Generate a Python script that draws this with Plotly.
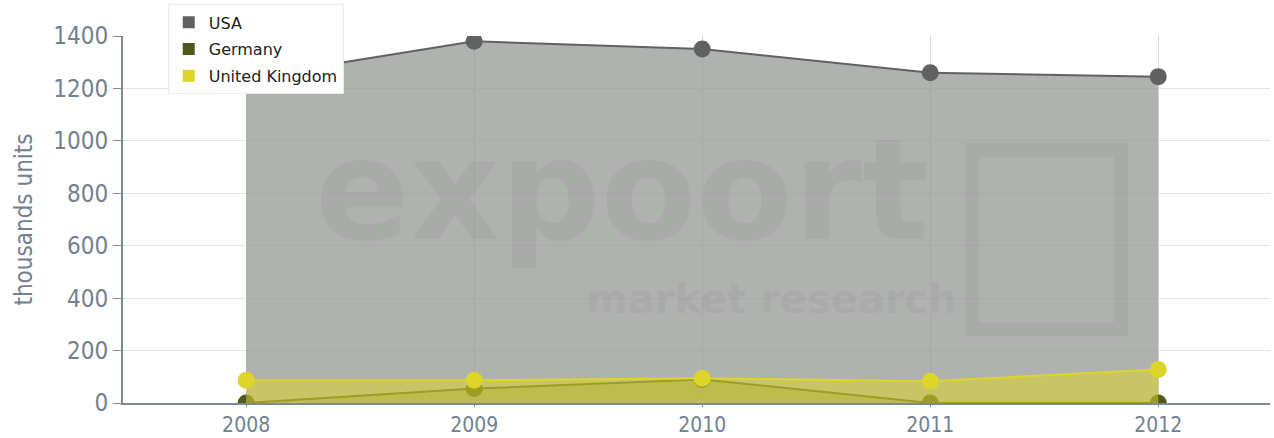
import plotly.graph_objects as go

years = [2008, 2009, 2010, 2011, 2012]
usa = [1240, 1380, 1350, 1260, 1245]
germany = [0, 55, 90, 0, 0]
uk = [87, 87, 94, 83, 128]
series_names = ["USA", "Germany", "United Kingdom"]

line_colors = ["#5f6163", "#4e5a1c", "#ddd52a"]
fill_colors = ["rgba(150,152,150,0.75)", "rgba(110,120,30,0.35)", "rgba(221,213,42,0.55)"]

fig = go.Figure()
for name, vals, lc, fc in zip(series_names, [usa, germany, uk], line_colors, fill_colors):
    fig.add_trace(go.Scatter(
        x=years, y=vals, mode="lines+markers", name=name,
        line=dict(color=lc, width=2), marker=dict(color=lc, size=17),
        fill="tozeroy", fillcolor=fc, showlegend=False, hoverinfo="skip"))

for name, lc in zip(series_names, line_colors):
    fig.add_trace(go.Scatter(
        x=[None], y=[None], mode="markers", name=name, legendgroup=name,
        marker=dict(color=lc, size=8, symbol="square")))

# watermark
fig.add_annotation(x=0.435, y=0.58, xref="paper", yref="paper", text="<b>expoort</b>",
                   showarrow=False, font=dict(family="Verdana, DejaVu Sans", size=140, color="rgba(120,120,120,0.13)"))
fig.add_annotation(x=0.565, y=0.215, xref="paper", yref="paper", text="<b>market research</b>",
                   showarrow=False, font=dict(family="Verdana, DejaVu Sans", size=40, color="rgba(120,120,120,0.13)"))
fig.add_shape(type="rect", xref="paper", yref="paper", x0=0.74, x1=0.87, y0=0.2, y1=0.69,
              line=dict(color="rgba(120,120,120,0.13)", width=14), fillcolor="rgba(0,0,0,0)")

axis_font = dict(family="DejaVu Sans Condensed, DejaVu Sans", size=24, color="#74818f")
xaxis_font = dict(family="DejaVu Sans Condensed, DejaVu Sans", size=21, color="#74818f")
fig.update_layout(
    width=1274, height=438,
    margin=dict(l=123, r=4, t=32, b=35),
    paper_bgcolor="white", plot_bgcolor="white",
    font=dict(family="DejaVu Sans, Verdana", color="#333"),
    legend=dict(x=0.039, y=1.0862, xanchor="left", yanchor="top",
                bgcolor="white", bordercolor="#ececec", borderwidth=1,
                font=dict(size=16, color="#222"), itemsizing="constant",
                tracegroupgap=3, itemwidth=30),
    xaxis=dict(range=[2007.46, 2012.49], tickvals=years, ticktext=[str(y) for y in years],
               showgrid=True, gridcolor="rgba(150,150,150,0.35)", gridwidth=1,
               showline=True, linecolor="#7d8a96", linewidth=2,
               ticks="outside", tickcolor="#7d8a96", ticklen=2,
               tickfont=xaxis_font, zeroline=False, automargin=False),
    yaxis=dict(range=[0, 1400], dtick=200, showgrid=True, gridcolor="#e6e6e6",
               showline=True, linecolor="#7d8a96", linewidth=2,
               ticks="outside", tickcolor="#7d8a96", ticklen=8,
               tickfont=axis_font, zeroline=False, automargin=False,
               title=dict(text="thousands units", font=axis_font, standoff=14)),
)

fig.write_html("out.html", config={"displayModeBar": False},
               post_script="document.body.style.margin='0';document.body.style.overflow='hidden';")
